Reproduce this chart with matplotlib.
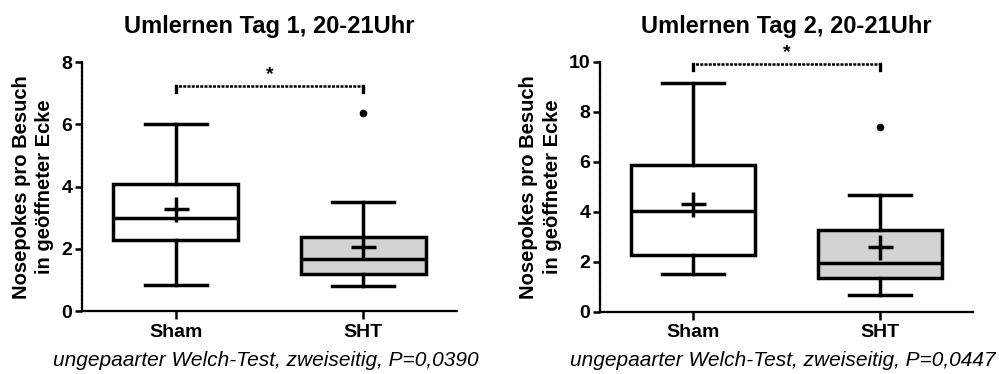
import matplotlib.pyplot as plt

plt.rcParams['font.family'] = ['Liberation Sans', 'DejaVu Sans']

groups = ["Sham", "SHT"]
box_colors = ["white", "#d3d3d3"]

# day 1
d1_title = "Umlernen Tag 1, 20-21Uhr"
d1_whislo = [0.83, 0.80]
d1_q1 = [2.30, 1.19]
d1_med = [3.0, 1.68]
d1_q3 = [4.09, 2.37]
d1_whishi = [6.0, 3.52]
d1_mean = [3.29, 2.05]
d1_fliers = [[], [6.35]]
d1_ymax = 8
d1_yticks = [0, 2, 4, 6, 8]
d1_bracket = 7.23
d1_p = "ungepaarter Welch-Test, zweiseitig, P=0,0390"

# day 2
d2_title = "Umlernen Tag 2, 20-21Uhr"
d2_whislo = [1.51, 0.67]
d2_q1 = [2.27, 1.33]
d2_med = [4.02, 1.93]
d2_q3 = [5.87, 3.27]
d2_whishi = [9.16, 4.67]
d2_mean = [4.31, 2.60]
d2_fliers = [[], [7.40]]
d2_ymax = 10
d2_yticks = [0, 2, 4, 6, 8, 10]
d2_bracket = 9.90
d2_p = "ungepaarter Welch-Test, zweiseitig, P=0,0447"

fig = plt.figure(figsize=(9.99, 3.74), dpi=100)
ax1 = fig.add_axes([0.0821, 0.168, 0.3754, 0.666])
ax2 = fig.add_axes([0.6006, 0.167, 0.3734, 0.668])


def draw_panel(ax, title, whislo, q1, med, q3, whishi, mean, fliers, ymax, yticks, bracket, ptext):
    stats = []
    for i in range(len(groups)):
        stats.append(dict(whislo=whislo[i], q1=q1[i], med=med[i], q3=q3[i],
                          whishi=whishi[i], mean=mean[i], fliers=fliers[i]))
    bp = ax.bxp(stats, positions=[1, 2], widths=0.667, capwidths=0.33,
                showmeans=True, patch_artist=True,
                boxprops=dict(linewidth=2.5, edgecolor='black'),
                medianprops=dict(color='black', linewidth=2.5),
                whiskerprops=dict(color='black', linewidth=2.5),
                capprops=dict(color='black', linewidth=2.5),
                meanprops=dict(marker='+', markersize=18, markeredgewidth=2.5,
                               markeredgecolor='black'),
                flierprops=dict(marker='o', markersize=4.5, markerfacecolor='black',
                                markeredgecolor='black'))
    for patch, c in zip(bp['boxes'], box_colors):
        patch.set_facecolor(c)

    ax.set_xlim(0.5, 2.5)
    ax.set_ylim(0, ymax)
    ax.set_yticks(yticks)
    ax.set_xticks([1, 2])
    ax.set_xticklabels(groups, fontsize=14, fontweight='bold')
    for lab in ax.get_yticklabels():
        lab.set_fontsize(14)
        lab.set_fontweight('bold')
    ax.tick_params(axis='both', direction='out', width=1.8, length=5, pad=2)
    ax.tick_params(axis='x', length=6, pad=3)

    for s in ['top', 'right']:
        ax.spines[s].set_visible(False)
    for s in ['left', 'bottom']:
        ax.spines[s].set_linewidth(1.6)
        ax.spines[s].set_linestyle((0, (1.2, 0.6)))

    ax.set_title(title, fontsize=17, fontweight='bold', pad=21)
    ax.set_ylabel("Nosepokes pro Besuch\nin geöffneter Ecke", fontsize=14.5,
                  fontweight='bold', labelpad=5, linespacing=1.3)

    # significance bracket
    drop = ymax * 0.022
    ax.plot([1, 1, 2, 2], [bracket - drop, bracket, bracket, bracket - drop],
            color='black', linewidth=1.8, linestyle=(0, (1.2, 0.5)), clip_on=False)
    ax.plot([1, 1], [bracket - drop, bracket], color='black', linewidth=2.4, clip_on=False)
    ax.plot([2, 2], [bracket - drop, bracket], color='black', linewidth=2.4, clip_on=False)
    ax.text(1.5, bracket + ymax * 0.012, "*", ha='center', va='bottom',
            fontsize=14, fontweight='bold')

    ax.text(0.49, -0.197, ptext, transform=ax.transAxes, ha='center', va='center',
            fontsize=15, fontstyle='italic')


draw_panel(ax1, d1_title, d1_whislo, d1_q1, d1_med, d1_q3, d1_whishi, d1_mean,
           d1_fliers, d1_ymax, d1_yticks, d1_bracket, d1_p)
draw_panel(ax2, d2_title, d2_whislo, d2_q1, d2_med, d2_q3, d2_whishi, d2_mean,
           d2_fliers, d2_ymax, d2_yticks, d2_bracket, d2_p)

fig.savefig("out.png", dpi=100)
